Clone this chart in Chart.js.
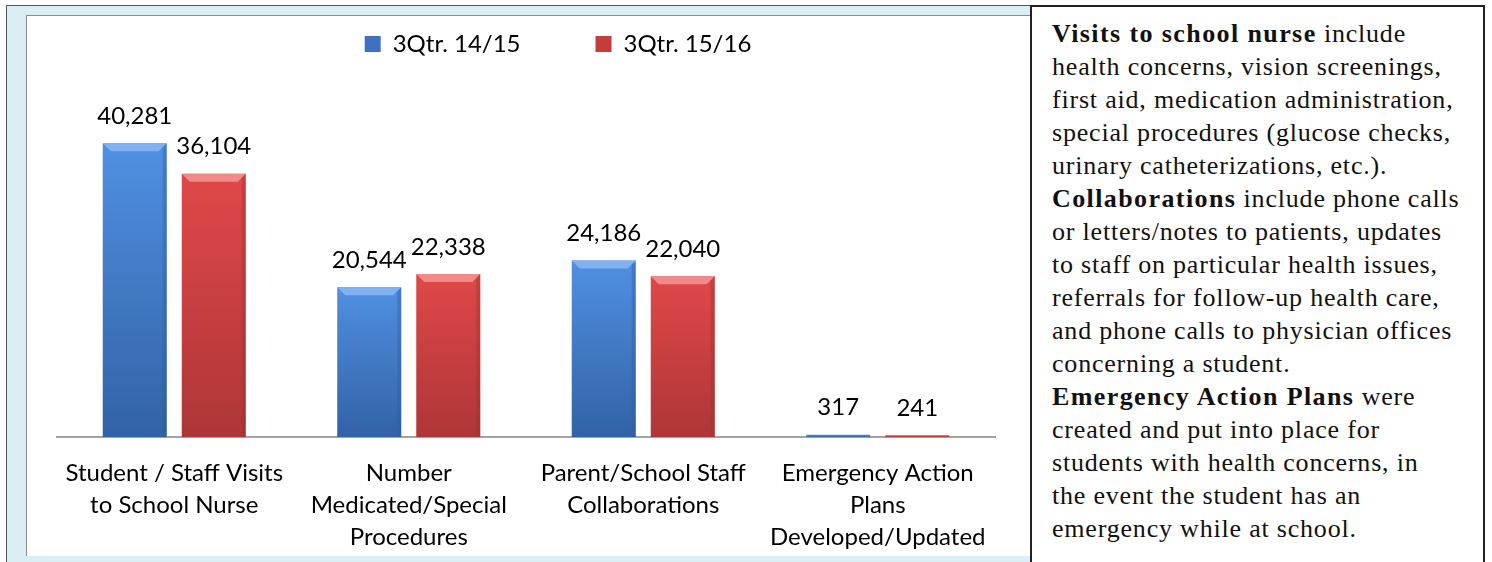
<!DOCTYPE html>
<html>
<head>
<meta charset="utf-8">
<script src="https://cdn.jsdelivr.net/npm/chart.js@4/dist/chart.umd.min.js"></script>
<style>
  html, body { margin: 0; padding: 0; background: #ffffff; width: 1492px; height: 562px; overflow: hidden; position: relative; }
  #outer { position: absolute; left: 6px; top: 5px; width: 1100px; height: 600px; background: #dbeef4; border-left: 1px solid #555; border-top: 1px solid #555; }
  #panel { position: absolute; left: 26px; top: 15px; width: 1100px; height: 541px; background: #ffffff; border-left: 1px solid #8c8c8c; border-top: 1px solid #8c8c8c; box-sizing: border-box; }
  #chart { position: absolute; left: 26px; top: -43px; }
  #note { position: absolute; left: 1030px; top: 5px; width: 455px; height: 600px; background: #ffffff; border: 2px solid #222; box-sizing: border-box; padding: 10px 0 0 20px; font-family: "Liberation Serif", serif; font-size: 26px; line-height: 33px; letter-spacing: 0.8px; color: #111; white-space: nowrap; z-index: 5; }
  #note b { font-weight: bold; letter-spacing: 1.4px; }
</style>
</head>
<body>
<div id="outer"></div>
<div id="panel"></div>
<canvas id="chart" width="1064" height="620"></canvas>
<div id="note">
<b>Visits to school nurse</b> include<br>
health concerns, vision screenings,<br>
first aid, medication administration,<br>
special procedures (glucose checks,<br>
urinary catheterizations, etc.).<br>
<b>Collaborations</b> include phone calls<br>
or letters/notes to patients, updates<br>
to staff on particular health issues,<br>
referrals for follow-up health care,<br>
and phone calls to physician offices<br>
concerning a student.<br>
<b>Emergency Action Plans</b> were<br>
created and put into place for<br>
students with health concerns, in<br>
the event the student has an<br>
emergency while at school.
</div>
<script>
const categories = [
  ["Student / Staff Visits", "to School Nurse"],
  ["Number", "Medicated/Special", "Procedures"],
  ["Parent/School Staff", "Collaborations"],
  ["Emergency Action", "Plans", "Developed/Updated"]
];
const seriesNames = ["3Qtr. 14/15", "3Qtr. 15/16"];
const visits1415 = [40281, 20544, 24186, 317];
const visits1516 = [36104, 22338, 22040, 241];

const palette = [
  { top: "#5090e2", bottom: "#3262a6", bevel: "#80b1f0", right: "#2d5a9a", legend: "#3f72be" },
  { top: "#e04848", bottom: "#ae3638", bevel: "#f28a8a", right: "#9a2e2e", legend: "#c43c3c" }
];

function barGradient(idx) {
  return function(ctx) {
    const chart = ctx.chart;
    if (!chart.chartArea || ctx.type !== "data") return palette[idx].top;
    const y = chart.scales.y;
    const top = y.getPixelForValue(ctx.raw);
    const bottom = y.getPixelForValue(0);
    if (bottom - top < 1) return palette[idx].top;
    const g = chart.ctx.createLinearGradient(0, top, 0, bottom);
    g.addColorStop(0, palette[idx].top);
    g.addColorStop(1, palette[idx].bottom);
    return g;
  };
}

const bevelPlugin = {
  id: "bevel",
  afterDatasetsDraw(chart) {
    const ctx = chart.ctx;
    chart.data.datasets.forEach((ds, di) => {
      const meta = chart.getDatasetMeta(di);
      meta.data.forEach((bar) => {
        const p = bar.getProps(["x", "y", "base", "width"], true);
        const l = p.x - p.width / 2, r = p.x + p.width / 2;
        const h = p.base - p.y;
        const b = 8;
        if (h < 2 * b) return;
        ctx.save();
        ctx.fillStyle = palette[di].bevel;
        ctx.beginPath();
        ctx.moveTo(l, p.y); ctx.lineTo(r, p.y); ctx.lineTo(r - b, p.y + b); ctx.lineTo(l + b, p.y + b); ctx.closePath();
        ctx.fill();
        ctx.globalAlpha = 0.35;
        ctx.fillStyle = palette[di].right;
        ctx.beginPath();
        ctx.moveTo(r, p.y); ctx.lineTo(r, p.base); ctx.lineTo(r - 4, p.base); ctx.lineTo(r - 4, p.y + 4); ctx.closePath();
        ctx.fill();
        ctx.restore();
      });
    });
  }
};

const valueLabels = {
  id: "valueLabels",
  afterDatasetsDraw(chart) {
    const ctx = chart.ctx;
    ctx.save();
    ctx.font = "24px Lato";
    ctx.fillStyle = "#000";
    ctx.textAlign = "center";
    ctx.textBaseline = "middle";
    chart.data.datasets.forEach((ds, di) => {
      const meta = chart.getDatasetMeta(di);
      meta.data.forEach((bar, i) => {
        ctx.fillText(ds.data[i].toLocaleString("en-US"), bar.x, bar.y - 27);
      });
    });
    ctx.restore();
  }
};

new Chart(document.getElementById("chart"), {
  type: "bar",
  data: {
    labels: categories,
    datasets: [
      { label: seriesNames[0], data: visits1415, backgroundColor: barGradient(0), categoryPercentage: 0.674, barPercentage: 0.81 },
      { label: seriesNames[1], data: visits1516, backgroundColor: barGradient(1), categoryPercentage: 0.674, barPercentage: 0.81 }
    ]
  },
  options: {
    responsive: false,
    devicePixelRatio: 1,
    animation: false,
    layout: { padding: { left: 0, right: 0, top: 0, bottom: 4 } },
    plugins: {
      tooltip: { enabled: false },
      legend: {
        position: "top",
        labels: {
          boxWidth: 16, boxHeight: 16, padding: 75,
          font: { family: "Lato", size: 24 }, color: "#000",
          generateLabels(chart) {
            return chart.data.datasets.map((ds, i) => ({
              text: ds.label, fillStyle: palette[i].legend, strokeStyle: palette[i].legend, lineWidth: 0, datasetIndex: i, hidden: false
            }));
          }
        }
      }
    },
    scales: {
      x: {
        grid: { display: false, drawTicks: false },
        border: { display: true, color: "#a3a3a3", width: 2 },
        ticks: { font: { family: "Lato", size: 24, lineHeight: 1.3333 }, color: "#000", padding: 20, maxRotation: 0, autoSkip: false }
      },
      y: {
        min: 0, max: 50870,
        grid: { display: false, drawTicks: false },
        border: { display: false },
        ticks: { display: false },
        afterFit(scale) { scale.width = 31; }
      },
      yRight: {
        type: "linear", position: "right", min: 0, max: 1,
        grid: { display: false, drawTicks: false },
        border: { display: false },
        ticks: { display: false },
        afterFit(scale) { scale.width = 95; }
      }
    }
  },
  plugins: [bevelPlugin, valueLabels]
});
</script>
</body>
</html>
